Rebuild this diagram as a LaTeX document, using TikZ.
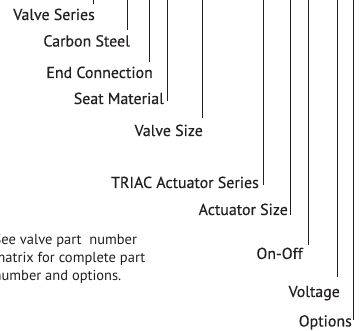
\documentclass[tikz,border=0pt]{standalone}
\usepackage{fontspec}
\setmainfont{PT Sans}
\newfontfamily\labfont{PT Sans}[FakeBold=0.35]
\definecolor{ink}{HTML}{231F20}
\begin{document}
\begin{tikzpicture}[x=1pt,y=-1pt,
  lab/.style={inner sep=0pt,anchor=base east,text=ink,font=\labfont\fontsize{15.9}{18}\selectfont},
  para/.style={inner sep=0pt,anchor=base west,text=ink,font=\fontsize{14.5}{17}\selectfont},
  lead/.style={draw=ink,line width=0.8pt}]
\useasboundingbox (0,0) rectangle (359,331);
\clip (0,0) rectangle (359,331);
% labels
\node[lab] (l1) at (95,20) {Valve Series};
\node[lab] (l2) at (130,46.5) {Carbon Steel};
\node[lab] (l3) at (153,78) {End Connection};
\node[lab] (l4) at (164,104) {Seat Material};
\node[lab] (l5) at (203,136) {Valve Size};
\node[lab] (l6) at (259,188) {TRIAC Actuator Series};
\node[lab] (l7) at (288,215) {Actuator Size};
\node[lab] (l8) at (303,259) {On-Off};
\node[lab] (l9) at (340,297) {Voltage};
\node[lab] (l10) at (352,326.5) {Options};
% leader lines
\foreach \i/\x/\y in {1/93/4,2/127/30,3/149/62,4/167/101,5/202/118,6/263/185,7/290/215,8/308/245,9/337/277,10/353/320}{
  \coordinate (t\i) at (\x,0);
  \coordinate (e\i) at (\x,\y);
  \draw[lead] (t\i) -- (e\i);
}
% note
\node[para] (p1) at (-6.5,245) {See valve part\ \ number};
\node[para] (p2) at (-6.5,262.5) {matrix for complete part};
\node[para] (p3) at (-6.5,280) {number and options.};
\end{tikzpicture}
\end{document}
